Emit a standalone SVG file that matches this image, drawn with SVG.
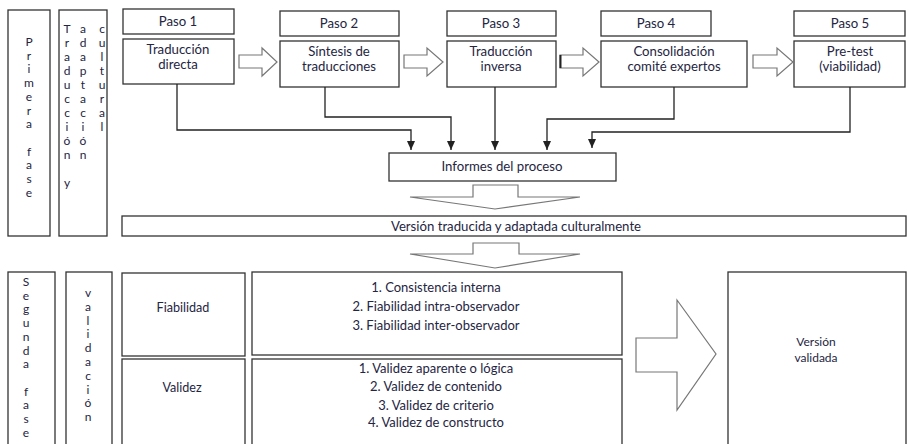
<svg xmlns="http://www.w3.org/2000/svg" width="909" height="444" viewBox="0 0 909 444">
<defs>
<style>
.box{fill:#fff;stroke:#333;stroke-width:1.3}
.blk{fill:#fff;stroke:#777;stroke-width:1.2}
.t{font-family:Lato,"Liberation Sans",sans-serif;font-size:13.2px;fill:#25253f;text-anchor:middle}
.s{font-size:13px}
.m{font-size:12.6px}
.w{font-size:12px}
.v{font-family:Lato,"Liberation Sans",sans-serif;font-size:12px;fill:#25253f;text-anchor:middle}
.c{fill:none;stroke:#222;stroke-width:1.3}
</style>
<marker id="ah" markerUnits="userSpaceOnUse" markerWidth="10" markerHeight="8" refX="9" refY="4" orient="auto" viewBox="0 0 10 8">
<path d="M0,0 L9,4 L0,8 Z" fill="#222"/>
</marker>
</defs>
<rect width="909" height="444" fill="#fff"/>

<g id="primera-fase">
<rect class="box" x="8" y="10" width="42" height="226"/>
<text class="v"><tspan x="29" y="46">P</tspan><tspan x="29" y="59.7">r</tspan><tspan x="29" y="73.4">i</tspan><tspan x="29" y="87.1">m</tspan><tspan x="29" y="100.8">e</tspan><tspan x="29" y="114.5">r</tspan><tspan x="29" y="128.2">a</tspan><tspan x="29" y="155.6">f</tspan><tspan x="29" y="169.3">a</tspan><tspan x="29" y="183">s</tspan><tspan x="29" y="196.7">e</tspan></text>
</g>

<g id="traduccion-adaptacion">
<rect class="box" x="59" y="10" width="48" height="226"/>
<text class="v"><tspan x="67" y="33">T</tspan><tspan x="67" y="47">r</tspan><tspan x="67" y="61">a</tspan><tspan x="67" y="75">d</tspan><tspan x="67" y="89">u</tspan><tspan x="67" y="103">c</tspan><tspan x="67" y="117">c</tspan><tspan x="67" y="131">i</tspan><tspan x="67" y="145">ó</tspan><tspan x="67" y="159">n</tspan><tspan x="67" y="187">y</tspan></text>
<text class="v"><tspan x="83" y="33">a</tspan><tspan x="83" y="47">d</tspan><tspan x="83" y="61">a</tspan><tspan x="83" y="75">p</tspan><tspan x="83" y="89">t</tspan><tspan x="83" y="103">a</tspan><tspan x="83" y="117">c</tspan><tspan x="83" y="131">i</tspan><tspan x="83" y="145">ó</tspan><tspan x="83" y="159">n</tspan></text>
<text class="v"><tspan x="102" y="33">c</tspan><tspan x="102" y="47">u</tspan><tspan x="102" y="61">l</tspan><tspan x="102" y="75">t</tspan><tspan x="102" y="89">u</tspan><tspan x="102" y="103">r</tspan><tspan x="102" y="117">a</tspan><tspan x="102" y="131">l</tspan></text>
</g>

<g id="paso1">
<rect class="box" x="123" y="9" width="111" height="25"/>
<text class="t" x="178" y="26">Paso 1</text>
<rect class="box" x="123" y="39" width="111" height="45"/>
<text class="t" x="178" y="54">Traducción</text>
<text class="t" x="178" y="69">directa</text>
</g>

<g id="paso2">
<rect class="box" x="280" y="11" width="119" height="25"/>
<text class="t" x="339" y="28">Paso 2</text>
<rect class="box" x="280" y="41" width="119" height="46"/>
<text class="t" x="339" y="56">Síntesis de</text>
<text class="t" x="339" y="71">traducciones</text>
</g>

<g id="paso3">
<rect class="box" x="447" y="11" width="109" height="25"/>
<text class="t" x="501" y="28">Paso 3</text>
<rect class="box" x="447" y="41" width="109" height="46"/>
<text class="t" x="501" y="56">Traducción</text>
<text class="t" x="501" y="71">inversa</text>
</g>

<g id="paso4">
<rect class="box" x="601" y="11" width="110" height="25"/>
<text class="t" x="656" y="28">Paso 4</text>
<rect class="box" x="601" y="41" width="146" height="46"/>
<text class="t" x="674" y="56">Consolidación</text>
<text class="t" x="674" y="71">comité expertos</text>
</g>

<g id="paso5">
<rect class="box" x="794" y="11" width="111" height="25"/>
<text class="t" x="850" y="28">Paso 5</text>
<rect class="box" x="794" y="41" width="111" height="46"/>
<text class="t" x="850" y="56">Pre-test</text>
<text class="t" x="850" y="71">(viabilidad)</text>
</g>

<g id="informes">
<rect class="box" x="389" y="153" width="227" height="28"/>
<text class="t" x="502" y="171">Informes del proceso</text>
</g>

<g id="version-traducida">
<rect class="box" x="122" y="216" width="784" height="20"/>
<text class="t" x="516" y="230.5">Versión traducida y adaptada culturalmente</text>
</g>

<g id="segunda-fase">
<rect class="box" x="8" y="272" width="47" height="180"/>
<text class="v"><tspan x="26" y="286">S</tspan><tspan x="26" y="299.7">e</tspan><tspan x="26" y="313.4">g</tspan><tspan x="26" y="327.1">u</tspan><tspan x="26" y="340.8">n</tspan><tspan x="26" y="354.5">d</tspan><tspan x="26" y="368.2">a</tspan><tspan x="26" y="395.6">f</tspan><tspan x="26" y="409.3">a</tspan><tspan x="26" y="423">s</tspan><tspan x="26" y="436.7">e</tspan></text>
</g>

<g id="validacion">
<rect class="box" x="66" y="272" width="46" height="180"/>
<text class="v"><tspan x="88" y="297">v</tspan><tspan x="88" y="310.8">a</tspan><tspan x="88" y="324.6">l</tspan><tspan x="88" y="338.4">i</tspan><tspan x="88" y="352.2">d</tspan><tspan x="88" y="366">a</tspan><tspan x="88" y="379.8">c</tspan><tspan x="88" y="393.6">i</tspan><tspan x="88" y="407.4">ó</tspan><tspan x="88" y="421.2">n</tspan></text>
</g>

<g id="fiabilidad">
<rect class="box" x="122" y="273" width="123" height="83"/>
<text class="t m" x="183" y="312">Fiabilidad</text>
<rect class="box" x="252" y="272" width="370" height="83"/>
<text class="t s" x="436" y="292">1. Consistencia interna</text>
<text class="t s" x="436" y="311">2. Fiabilidad intra-observador</text>
<text class="t s" x="436" y="330">3. Fiabilidad inter-observador</text>
</g>

<g id="validez">
<rect class="box" x="122" y="359" width="123" height="93"/>
<text class="t m" x="182" y="392">Validez</text>
<rect class="box" x="252" y="359" width="370" height="93"/>
<text class="t s" x="436" y="373">1. Validez aparente o lógica</text>
<text class="t s" x="436" y="391">2. Validez de contenido</text>
<text class="t s" x="436" y="410">3. Validez de criterio</text>
<text class="t s" x="436" y="427">4. Validez de constructo</text>
</g>

<g id="version-validada">
<rect class="box" x="728" y="272" width="178" height="180"/>
<text class="t w" x="816" y="346">Versión</text>
<text class="t w" x="816" y="362">validada</text>
</g>

<g id="connectors">
<polygon class="blk" points="239,55 262,55 262,48 277,62 262,76 262,68 239,68"/>
<polygon class="blk" points="404,55 427,55 427,48 443,62 427,76 427,68 404,68"/>
<polygon class="blk" points="560,55 583,55 583,48 599,62 583,76 583,68 560,68"/>
<line x1="560.5" y1="55" x2="560.5" y2="68" stroke="#222" stroke-width="2"/>
<polygon class="blk" points="753,55 777,55 777,48 793,62 777,76 777,68 753,68"/>

<polyline class="c" points="177,84 177,130 411,130 411,150" marker-end="url(#ah)"/>
<polyline class="c" points="325,87 325,117 451,117 451,150" marker-end="url(#ah)"/>
<polyline class="c" points="495,87 495,150" marker-end="url(#ah)"/>
<polyline class="c" points="674,87 674,119 547,119 547,150" marker-end="url(#ah)"/>
<polyline class="c" points="850,87 850,132 592,132 592,148" marker-end="url(#ah)"/>

<polygon class="blk" points="473,185 518,185 518,197 580,197 495,209 410,197 473,197"/>
<polygon class="blk" points="473,243 519,243 519,254 580,254 495,268 410,254 473,254"/>

<polygon class="blk" points="636,338 677,338 677,300 716,354 677,410 677,372 636,372"/>
</g>
</svg>
